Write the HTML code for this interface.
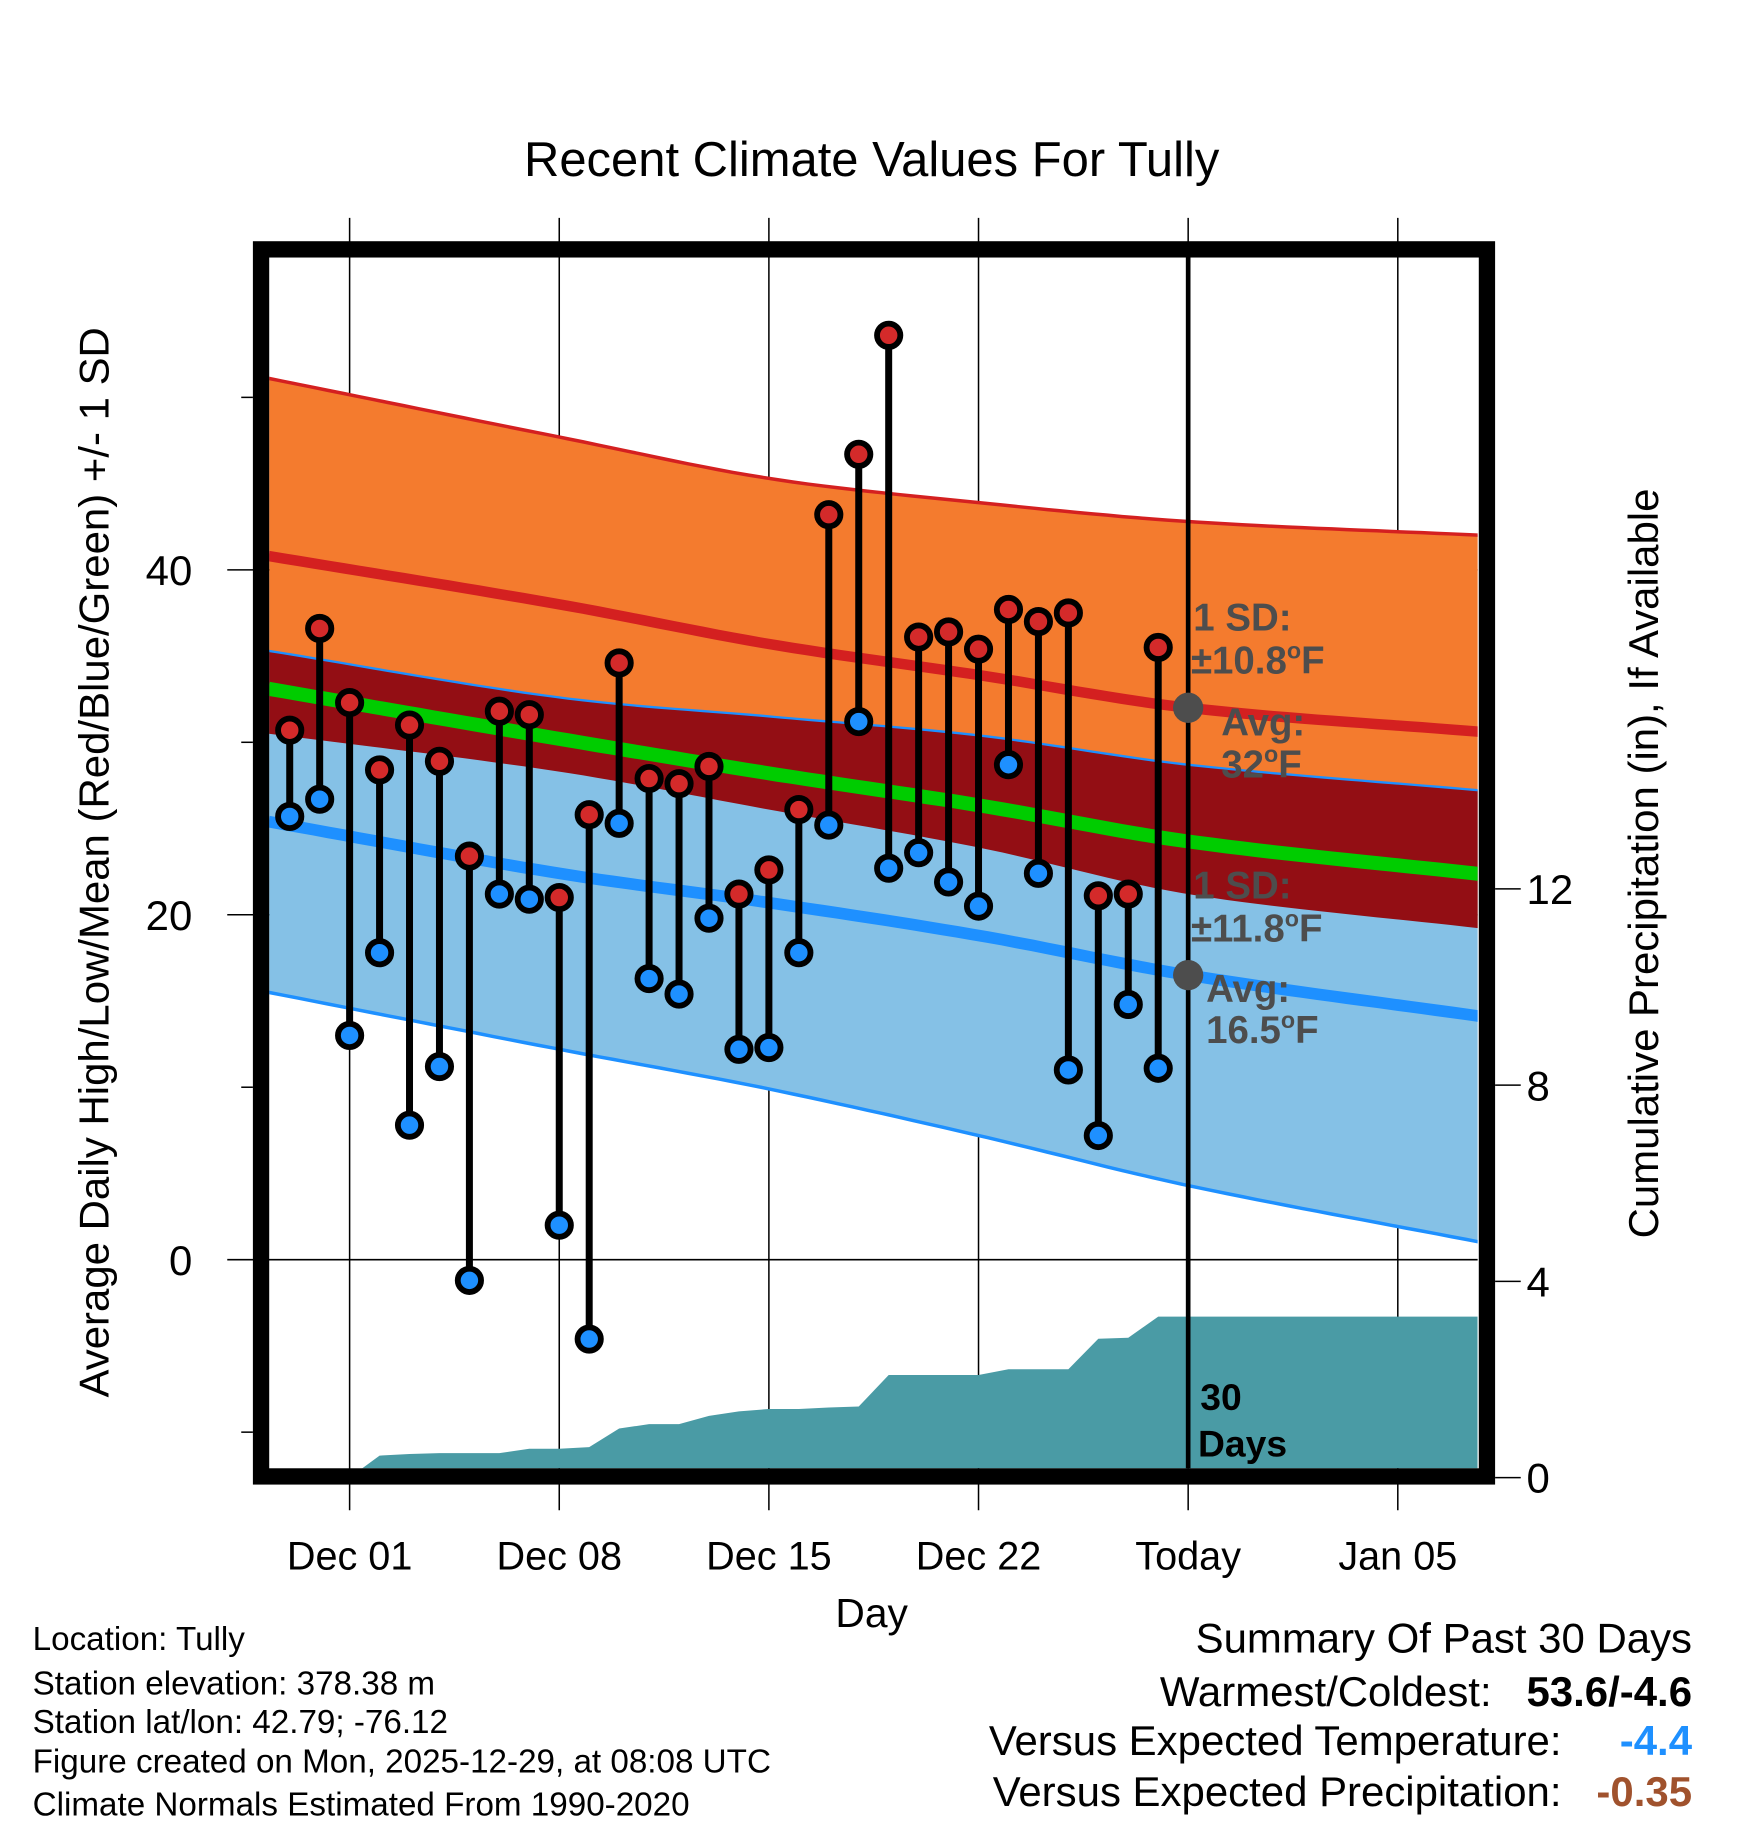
<!DOCTYPE html>
<html><head><meta charset="utf-8"><style>
html,body{margin:0;padding:0;background:#fff}
svg{display:block;font-family:"Liberation Sans",Arial,sans-serif}
</style></head><body>
<svg id="chart" width="1748" height="1828" viewBox="0 0 1500 1568.7" xmlns="http://www.w3.org/2000/svg">
<defs><clipPath id="plotclip"><rect x="231" y="221" width="1037" height="1039"/></clipPath></defs>
<text x="748" y="151" font-size="42" text-anchor="middle">Recent Climate Values For Tully</text>
<g id="grid"></g>
<g id="plot" clip-path="url(#plotclip)"></g>
<g id="marks"></g>
<rect x="224" y="214" width="1052" height="1053" fill="none" stroke="#000" stroke-width="14"/>
<g id="axes"></g>
<text transform="translate(93,740) rotate(-90)" font-size="36" text-anchor="middle">Average Daily High/Low/Mean (Red/Blue/Green) +/- 1 SD</text>
<text transform="translate(1423,741) rotate(-90)" font-size="36" text-anchor="middle">Cumulative Precipitation (in), If Available</text>
<text x="748" y="1396" font-size="35" text-anchor="middle">Day</text>
<g font-size="28.5">
<text x="28" y="1416">Location: Tully</text>
<text x="28" y="1454">Station elevation: 378.38 m</text>
<text x="28" y="1487">Station lat/lon: 42.79; -76.12</text>
<text x="28" y="1521">Figure created on Mon, 2025-12-29, at 08:08 UTC</text>
<text x="28" y="1558">Climate Normals Estimated From 1990-2020</text>
</g>
<g font-size="36">
<text x="1452" y="1418" text-anchor="end">Summary Of Past 30 Days</text>
<text x="1280" y="1464" text-anchor="end">Warmest/Coldest:</text>
<text x="1452" y="1464" text-anchor="end" font-weight="bold">53.6/-4.6</text>
<text x="1340" y="1506" text-anchor="end">Versus Expected Temperature:</text>
<text x="1452" y="1506" text-anchor="end" font-weight="bold" fill="#1e90ff">-4.4</text>
<text x="1340" y="1550" text-anchor="end">Versus Expected Precipitation:</text>
<text x="1452" y="1550" text-anchor="end" font-weight="bold" fill="#a0522d">-0.35</text>
</g>
</svg>
<script>
const highs=[30.7,36.6,32.3,28.4,31.0,28.9,23.4,31.8,31.6,21.0,25.8,34.6,27.9,27.6,28.6,21.2,22.6,26.1,43.2,46.7,53.6,36.1,36.4,35.4,37.7,37.0,37.5,21.1,21.2,35.5];
const lows=[25.7,26.7,13.0,17.8,7.8,11.2,-1.2,21.2,20.9,2.0,-4.6,25.3,16.3,15.4,19.8,12.2,12.3,17.8,25.2,31.2,22.7,23.6,21.9,20.5,28.7,22.4,11.0,7.2,14.8,11.1];
const precip=[0,0,0,0.45,0.48,0.50,0.50,0.50,0.59,0.59,0.62,1.00,1.09,1.09,1.26,1.35,1.40,1.40,1.43,1.45,2.09,2.09,2.09,2.09,2.21,2.21,2.21,2.83,2.85,3.28];
const normDays=[-0.7,9,16,23,30,39.8];
const highAvg=[40.8,38.0,35.7,33.9,32.0,30.6];
const highSD=[10.3,9.7,9.6,10.0,10.8,11.4];
const lowAvg=[25.4,22.4,20.7,18.8,16.5,14.1];
const lowSD=[9.9,10.2,10.8,11.6,12.2,13.1];
const xTickDays=[2,9,16,23,30,37];
const xTickLabels=["Dec 01","Dec 08","Dec 15","Dec 22","Today","Jan 05"];
const yTicks=[0,20,40];
const yMinor=[-10,10,30,50];
const y2Ticks=[0,4,8,12];

const NS="http://www.w3.org/2000/svg";
const X=i=>248.6+25.7*i;
const Y=t=>1081-14.8*t;
const YP=p=>1268-42.1*p;
function mk(tag,attrs,parent){const e=document.createElementNS(NS,tag);for(const k in attrs)e.setAttribute(k,attrs[k]);parent.appendChild(e);return e;}
function interp(arr,d){
 const n=normDays.length;let k=0;
 while(k<n-2&&d>normDays[k+1])k++;
 const x0=normDays[k],x1=normDays[k+1],h=x1-x0,t=(d-x0)/h;
 const slope=j=>{if(j===0)return (arr[1]-arr[0])/(normDays[1]-normDays[0]);if(j===n-1)return (arr[n-1]-arr[n-2])/(normDays[n-1]-normDays[n-2]);return (arr[j+1]-arr[j-1])/(normDays[j+1]-normDays[j-1]);};
 const m0=slope(k)*h,m1=slope(k+1)*h,t2=t*t,t3=t2*t;
 return (2*t3-3*t2+1)*arr[k]+(t3-2*t2+t)*m0+(-2*t3+3*t2)*arr[k+1]+(t3-t2)*m1;
}
const grid=document.getElementById('grid'),plot=document.getElementById('plot'),marks=document.getElementById('marks'),axes=document.getElementById('axes');
const samples=[];for(let d=-0.7;d<39.8;d+=0.5)samples.push(d);samples.push(39.8);
const f=(fn)=>samples.map(d=>[X(d),Y(fn(d))]);
const hU=d=>interp(highAvg,d)+interp(highSD,d), hL=d=>interp(highAvg,d)-interp(highSD,d);
const lU=d=>interp(lowAvg,d)+interp(lowSD,d), lL=d=>interp(lowAvg,d)-interp(lowSD,d);
const pts=a=>a.map(p=>p[0].toFixed(1)+','+p[1].toFixed(1)).join(' ');
let e;
e=mk('polygon',{points:pts(f(hU).concat(f(hL).reverse())),fill:'#f47b2e'},plot);

e=mk('polygon',{points:pts(f(lU).concat(f(lL).reverse())),fill:'#85c1e6'},plot);

e=mk('polygon',{points:pts(f(lU).concat(f(hL).reverse())),fill:'#930e14'},plot);

const line=(fn,c,w,name)=>{const l=mk('polyline',{points:pts(f(fn)),fill:'none',stroke:c,'stroke-width':w},plot);};
line(hU,'#d42020',3,'high-upper-sd-line');
line(d=>interp(highAvg,d),'#d42020',9,'avg-high-line');
line(lU,'#1e90ff',2,'low-upper-sd-line');
line(d=>(interp(highAvg,d)+interp(lowAvg,d))/2,'#00cc00',12,'mean-line');
line(d=>interp(lowAvg,d),'#1e90ff',10,'avg-low-line');
line(lL,'#1e90ff',3,'low-lower-sd-line');
let pp=[[231,YP(0)]];precip.forEach((p,i)=>pp.push([X(i),YP(p)]));pp.push([1268,YP(precip[precip.length-1])]);pp.push([1268,YP(0)]);
e=mk('polygon',{points:pts(pp),fill:'#4a9ba5'},plot);

xTickDays.forEach(d=>{e=mk('line',{x1:X(d),x2:X(d),y1:187,y2:1296,stroke:'#000','stroke-width':1.3},grid);});
yTicks.forEach(t=>{e=mk('line',{x1:195,x2:1268,y1:Y(t),y2:Y(t),stroke:'#000','stroke-width':1.3},grid);});
yMinor.forEach(t=>{e=mk('line',{x1:207,x2:217,y1:Y(t),y2:Y(t),stroke:'#000','stroke-width':1.3},grid);});
e=mk('line',{x1:X(30),x2:X(30),y1:221,y2:1260,stroke:'#000','stroke-width':4},marks);

highs.forEach((h,i)=>{
 e=mk('line',{x1:X(i),x2:X(i),y1:Y(h),y2:Y(lows[i]),stroke:'#000','stroke-width':6},marks);
 
});
highs.forEach((h,i)=>{
 e=mk('circle',{cx:X(i),cy:Y(h),r:10,fill:'#d42a2a',stroke:'#000','stroke-width':5},marks);
 
 e=mk('circle',{cx:X(i),cy:Y(lows[i]),r:10,fill:'#1e90ff',stroke:'#000','stroke-width':5},marks);
 
});
const ann=(x,y,txt,name,col,sz)=>{const t=mk('text',{x:x,y:y,'font-size':sz||33,'font-weight':'bold',fill:col||'#4d4d4d'},marks);t.innerHTML=txt;};
e=mk('circle',{cx:X(30),cy:Y(highAvg[4]),r:13,fill:'#4d4d4d'},marks);
e=mk('circle',{cx:X(30),cy:Y(lowAvg[4]),r:13,fill:'#4d4d4d'},marks);
const deg='<tspan font-size="20" dy="-13">o</tspan><tspan dy="13">F</tspan>';
ann(1024,541,'1 SD:','high-sd-label');
ann(1022,578,'±10.8'+deg,'high-sd-value');
ann(1048,631,'Avg:','high-avg-label');
ann(1048,667,'32'+deg,'high-avg-value');
ann(1024,771,'1 SD:','low-sd-label');
ann(1022,808,'±11.8'+deg,'low-sd-value');
ann(1035,860,'Avg:','low-avg-label');
ann(1035,895,'16.5'+deg,'low-avg-value');
ann(1030,1210,'30','days-label-num','#000',32);
ann(1028,1250,'Days','days-label','#000',32);
xTickDays.forEach((d,k)=>{e=mk('text',{x:X(d),y:1347,'font-size':34,'text-anchor':'middle'},axes);e.textContent=xTickLabels[k];});
yTicks.forEach(t=>{e=mk('text',{x:165,y:Y(t)+13,'font-size':36,'text-anchor':'end'},axes);e.textContent=t;});
y2Ticks.forEach(p=>{e=mk('line',{x1:1283,x2:1305,y1:YP(p),y2:YP(p),stroke:'#000','stroke-width':1.3},axes);
 e=mk('text',{x:1310,y:YP(p)+13,'font-size':36},axes);e.textContent=p;});
</script>
</body></html>
